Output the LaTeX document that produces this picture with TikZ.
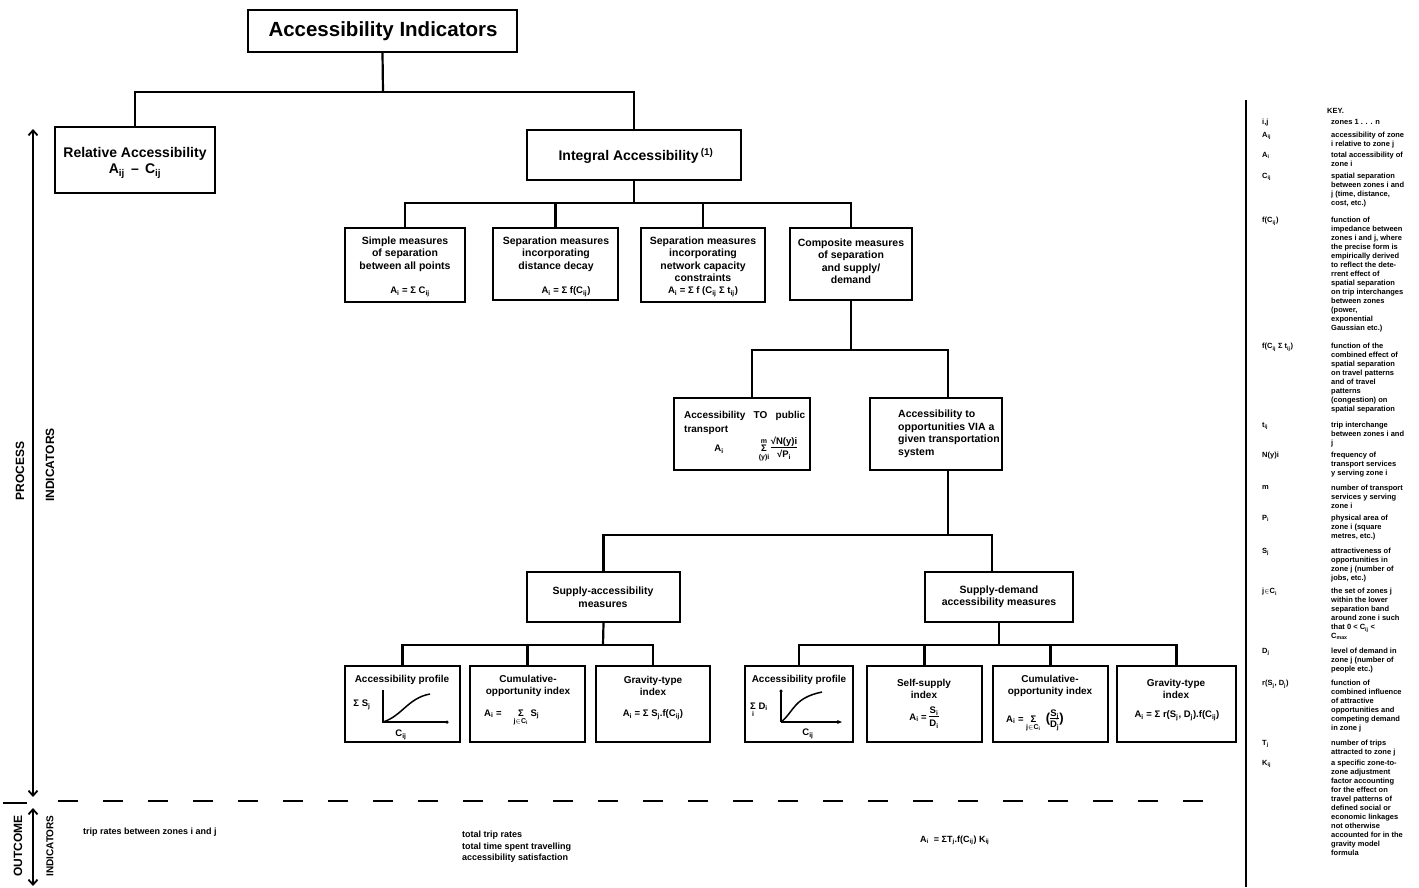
\documentclass[tikz,border=0pt]{standalone}
\usepackage{fontspec}
\setmainfont{Liberation Sans}
\usetikzlibrary{fit,arrows.meta}
\newcommand{\sbs}[1]{\textsubscript{#1}}
\newcommand{\frc}[2]{\begin{tabular}{@{}c@{}}#1\\[-1pt]\hline\rule{0pt}{1.1em}#2\end{tabular}}
\newcommand{\frcs}[2]{\begin{tabular}{@{}c@{}}#1\\[-2pt]\hline\rule{0pt}{0.95em}#2\end{tabular}}
\newcommand{\sumbelow}[1]{\begin{tabular}[t]{@{}c@{}}Σ\\[-4pt]{\fontsize{7}{7}\selectfont #1}\end{tabular}}
\newcommand{\sumboth}[2]{\begin{tabular}{@{}c@{}}{\fontsize{7}{7}\selectfont #1}\\[-3pt]Σ\\[-3pt]{\fontsize{7}{7}\selectfont #2}\end{tabular}}
\setlength{\arrayrulewidth}{0.8pt}
\begin{document}
\begin{tikzpicture}[x=1pt,y=-1pt,
  box/.style={draw, line width=2pt, inner sep=0pt},
  conn/.style={line width=2.2pt},
  tbig/.style={font=\bfseries\fontsize{14}{16}\selectfont, align=center, inner sep=0pt},
  tbox/.style={font=\bfseries\fontsize{10.5}{12.5}\selectfont, align=center, inner sep=0pt},
  tsm/.style={font=\bfseries\fontsize{10}{12}\selectfont, align=center, inner sep=0pt},
  fm/.style={font=\bfseries\fontsize{9.5}{11}\selectfont, inner sep=0pt},
  keyt/.style={font=\bfseries\fontsize{7.5}{9}\selectfont, align=left, anchor=north west, inner sep=0pt},
  outt/.style={font=\bfseries\fontsize{9}{11.5}\selectfont, align=left, anchor=west, inner sep=0pt},
  vlab/.style={rotate=90, font=\bfseries\fontsize{12}{14}\selectfont, inner sep=0pt},
  arr/.style={line width=1.8pt, {Straight Barb[length=5pt,width=9pt]}-{Straight Barb[length=5pt,width=9pt]}},
  dotm/.style={circle, fill, inner sep=0pt, minimum size=4pt},
  axis/.style={line width=1.3pt},
  curve/.style={line width=1.5pt}
]
\useasboundingbox (0,0) rectangle (1419,887);
\fill[white] (0,0) rectangle (1419,887);

% ---------- Title ----------
\node[box, fit={(248,10) (517,52)}] (title) {};
\node[font=\bfseries\fontsize{20.5}{24}\selectfont, inner sep=0pt] (titleT) at (383,31) {Accessibility Indicators};

% ---------- Level 1 ----------
\node[box, fit={(55,127) (215,193)}] (rel) {};
\node[tbig] (relT) at (135,163) {Relative Accessibility\\A\sbs{ij} \,--\, C\sbs{ij}};
\node[box, fit={(527,130) (741,180)}] (integ) {};
\node[tbig] (integT) at (636,156) {Integral Accessibility\,\textsuperscript{(1)}};

\coordinate (j1) at (383,92);
\draw[conn] (title.south) -- (j1);
\draw[conn] (rel.north) -- (rel.north |- j1) -- (integ.north |- j1) -- (integ.north);

% ---------- Level 2 ----------
\node[box, fit={(345,228) (465,302)}] (b1) {};
\node[tbox] (b1T) at (405,254) {Simple measures\\of separation\\between all points};
\node[fm] (b1F) at (410,292) {A\sbs{i} = Σ C\sbs{ij}};

\node[box, fit={(493,228) (618,300)}] (b2) {};
\node[tbox] (b2T) at (556,254) {Separation measures\\incorporating\\distance decay};
\node[fm] (b2F) at (566,292) {A\sbs{i} = Σ f(C\sbs{ij})};

\node[box, fit={(641,228) (765,302)}] (b3) {};
\node[tbox] (b3T) at (703,259) {Separation measures\\incorporating\\network capacity\\constraints};
\node[fm] (b3F) at (703,292) {A\sbs{i} = Σ f (C\sbs{ij} Σ t\sbs{ij})};

\node[box, fit={(790,228) (912,300)}] (b4) {};
\node[tbox] (b4T) at (851,261) {Composite measures\\of separation\\and supply/\\demand};

\coordinate (j2) at (628,203);
\draw[conn] (integ.south) -- (integ.south |- j2);
\draw[conn] (b1.north) -- (b1.north |- j2) -- (b4.north |- j2) -- (b4.north);
\draw[conn] (b2.north) -- (b2.north |- j2);
\draw[conn] (b3.north) -- (b3.north |- j2);

% ---------- Level 3 ----------
\node[box, fit={(674,398) (810,470)}] (pt) {};
\node[tsm, anchor=west] (ptT1) at (684,416) {Accessibility\ \ \ TO\ \ \ public};
\node[tsm, anchor=west] (ptT2) at (684,430) {transport};
\node[fm] (ptA) at (719,449) {A\sbs{i}};
\node[fm] (ptF) at (778,449) {\sumboth{m}{(y)i}\,\frc{√N(y)i}{√P\sbs{i}}};

\node[box, fit={(870,398) (1002,470)}] (op) {};
\node[tbox, align=left, anchor=west] (opT) at (898,434) {Accessibility to\\opportunities VIA a\\given transportation\\system};

\coordinate (j3) at (851,350);
\coordinate (j3a) at (752,350);
\coordinate (j3b) at (948,350);
\draw[conn] (b4.south) -- (j3);
\draw[conn] (j3a |- pt.north) -- (j3a) -- (j3b) -- (j3b |- op.north);

% ---------- Level 4 ----------
\node[box, fit={(527,572) (680,622)}] (sa) {};
\node[tbox] (saT) at (603,597) {Supply-accessibility\\measures};
\node[box, fit={(925,572) (1073,622)}] (sd) {};
\node[tbox] (sdT) at (999,597) {Supply-demand\\accessibility measures};

\coordinate (j4) at (948,535);
\coordinate (j4b) at (992,535);
\draw[conn] (j3b |- op.south) -- (j4);
\draw[conn] (sa.north) -- (sa.north |- j4) -- (j4b) -- (j4b |- sd.north);

% ---------- Level 5 : supply-accessibility ----------
\node[box, fit={(345,666) (460,742)}] (sa1) {};
\node[tsm] (sa1T) at (402,680) {Accessibility profile};
\node[fm] (sa1Y) at (362,705) {Σ S\sbs{j}};
\node[fm] (sa1X) at (401,735) {C\sbs{ij}};
\coordinate (sa1o) at (383,722);
\draw[axis] (383,690) -- (sa1o) -- (446,722);
\node[dotm, minimum size=3.5pt] (sa1d) at (447,722) {};
\draw[curve] (sa1o) .. controls (402,716) and (408,698) .. (430,694);

\node[box, fit={(470,666) (585,742)}] (sa2) {};
\node[tsm] (sa2T) at (528,686) {Cumulative-\\opportunity index};
\node[fm, anchor=base west] (sa2F) at (484,716) {A\sbs{i} = \quad\sumbelow{j$\in$C\sbs{i}} S\sbs{j}};

\node[box, fit={(596,666) (710,742)}] (sa3) {};
\node[tsm] (sa3T) at (653,686) {Gravity-type\\index};
\node[fm] (sa3F) at (653,715) {A\sbs{i} = Σ S\sbs{j}.f(C\sbs{ij})};

\coordinate (j5) at (603,645);
\draw[conn] (sa.south) -- (j5);
\draw[conn] (sa1.north) -- (sa1.north |- j5) -- (sa3.north |- j5) -- (sa3.north);
\draw[conn] (sa2.north) -- (sa2.north |- j5);

% ---------- Level 5 : supply-demand ----------
\node[box, fit={(745,666) (853,742)}] (sd1) {};
\node[tsm] (sd1T) at (799,680) {Accessibility profile};
\node[fm, anchor=base west] (sd1Y) at (750,709) {\sumbelow{i} D\sbs{i}};
\node[fm] (sd1X) at (808,734) {C\sbs{ij}};
\coordinate (sd1o) at (781,722);
\draw[axis] (781,692) -- (sd1o);
\draw[axis, -{Stealth[length=5pt,width=4pt]}] (sd1o) -- (842,722);
\node[dotm, minimum size=3.5pt] (sd1d) at (781,691) {};
\draw[curve] (sd1o) .. controls (794,712) and (793,698) .. (822,692);

\node[box, fit={(867,666) (982,742)}] (sd2) {};
\node[tsm] (sd2T) at (924,689) {Self-supply\\index};
\node[fm] (sd2F) at (924,718) {A\sbs{i} = \frc{S\sbs{i}}{D\sbs{i}}};

\node[box, fit={(993,666) (1108,742)}] (sd3) {};
\node[tsm] (sd3T) at (1050,686) {Cumulative-\\opportunity index};
\node[fm, anchor=base west] (sd3F) at (1006,722) {A\sbs{i} = \sumbelow{j$\in$C\sbs{i}}\ \ {\fontsize{13}{13}\selectfont(}\frcs{S\sbs{j}}{D\sbs{j}}{\fontsize{13}{13}\selectfont)}};

\node[box, fit={(1117,666) (1236,742)}] (sd4) {};
\node[tsm] (sd4T) at (1176,689) {Gravity-type\\index};
\node[fm] (sd4F) at (1177,716) {A\sbs{i} = Σ r(S\sbs{j}, D\sbs{j}).f(C\sbs{ij})};

\coordinate (j6) at (999,645);
\draw[conn] (sd.south) -- (j6);
\draw[conn] (sd1.north) -- (sd1.north |- j6) -- (sd4.north |- j6) -- (sd4.north);
\draw[conn] (sd2.north) -- (sd2.north |- j6);
\draw[conn] (sd3.north) -- (sd3.north |- j6);

% ---------- Left side: process / outcome ----------
\coordinate (pa1) at (33,129);
\coordinate (pa2) at (33,797);
\draw[arr] (pa1) -- (pa2);
\node[vlab] (procL) at (20,471) {PROCESS};
\node[vlab] (procI) at (50,465) {INDICATORS};

\coordinate (oa1) at (33,808);
\coordinate (oa2) at (33,886);
\draw[arr] (oa1) -- (oa2);
\node[vlab] (outL) at (18,846) {OUTCOME};
\node[vlab, font=\bfseries\fontsize{10}{12}\selectfont] (outI) at (50,846) {INDICATORS};
\coordinate (s1) at (3,803);
\coordinate (s2) at (27,803);
\draw[line width=1.3pt] (s1) -- (s2);

\coordinate (d1) at (58,801);
\coordinate (d2) at (1228,801);
\draw[line width=1.6pt, dash pattern=on 20pt off 25pt] (d1) -- (d2);

\node[outt] (o1) at (83,832) {trip rates between zones i and j};
\node[outt] (o2) at (462,847) {total trip rates\\total time spent travelling\\accessibility satisfaction};
\node[outt] (o3) at (920,840) {A\sbs{i}\ \ = ΣT\sbs{j}.f(C\sbs{ij}) K\sbs{ij}};

% ---------- Key ----------
\coordinate (k1) at (1246,100);
\coordinate (k2) at (1246,887);
\draw[line width=1.6pt] (k1) -- (k2);
\node[keyt] (keyH) at (1327,108) {KEY.};
\newcommand{\kentry}[4]{%
  \node[keyt] (#1s) at (1262,#2) {#3};
  \node[keyt] (#1t) at (1331,#2) {#4};}
\kentry{ka}{119}{i,j}{zones 1 . . . n}
\kentry{kb}{132}{A\sbs{ij}}{accessibility of zone\\i relative to zone j}
\kentry{kc}{152}{A\sbs{i}}{total accessibility of\\zone i}
\kentry{kd}{173}{C\sbs{ij}}{spatial separation\\between zones i and\\j (time, distance,\\cost, etc.)}
\kentry{ke}{217}{f(C\sbs{ij})}{function of\\impedance between\\zones i and j, where\\the precise form is\\empirically derived\\to reflect the dete-\\rrent effect of\\spatial separation\\on trip interchanges\\between zones\\(power,\\exponential\\Gaussian etc.)}
\kentry{kf}{343}{f(C\sbs{ij} Σ t\sbs{ij})}{function of the\\combined effect of\\spatial separation\\on travel patterns\\and of travel\\patterns\\(congestion) on\\spatial separation}
\kentry{kg}{422}{t\sbs{ij}}{trip interchange\\between zones i and\\j}
\kentry{kh}{452}{N(y)i}{frequency of\\transport services\\y serving zone i}
\kentry{ki}{485}{m}{number of transport\\services y serving\\zone i}
\kentry{kj}{515}{P\sbs{i}}{physical area of\\zone i (square\\metres, etc.)}
\kentry{kk}{548}{S\sbs{j}}{attractiveness of\\opportunities in\\zone j (number of\\jobs, etc.)}
\kentry{kl}{588}{j$\in$C\sbs{i}}{the set of zones j\\within the lower\\separation band\\around zone i such\\that 0 < C\sbs{ij} <\\C\sbs{max}}
\kentry{km}{648}{D\sbs{j}}{level of demand in\\zone j (number of\\people etc.)}
\kentry{kn}{680}{r(S\sbs{j}, D\sbs{j})}{function of\\combined influence\\of attractive\\opportunities and\\competing demand\\in zone j}
\kentry{ko}{740}{T\sbs{j}}{number of trips\\attracted to zone j}
\kentry{kp}{760}{K\sbs{ij}}{a specific zone-to-\\zone adjustment\\factor accounting\\for the effect on\\travel patterns of\\defined social or\\economic linkages\\not otherwise\\accounted for in the\\gravity model\\formula}
\end{tikzpicture}
\end{document}
